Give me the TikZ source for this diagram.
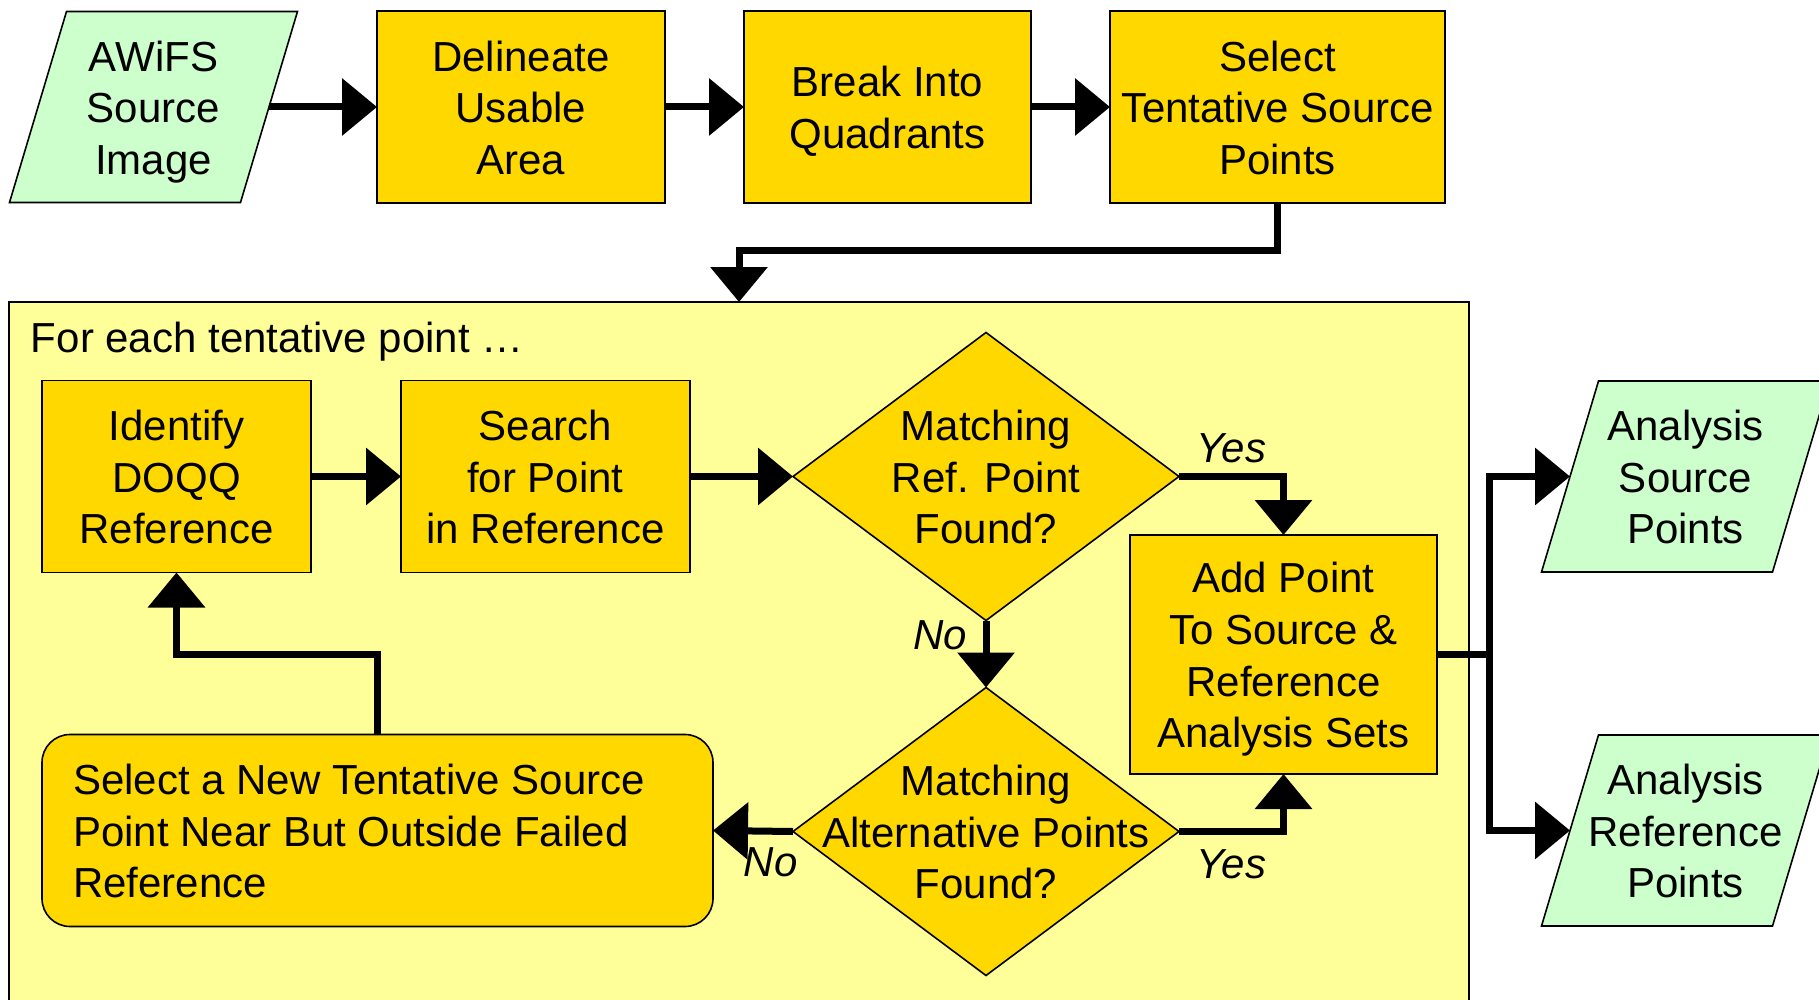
\documentclass[tikz,border=0pt]{standalone}
\usepackage{fontspec}
\setmainfont{Liberation Sans}
\usetikzlibrary{arrows.meta, positioning, shapes.geometric}
\definecolor{stepGold}{HTML}{FFD800}
\definecolor{dataGreen}{HTML}{CCFFCC}
\definecolor{loopYellow}{HTML}{FFFF99}
\pgfdeclarelayer{background}
\pgfsetlayers{background,main}
% stacked lines, each 25.8pt high, block centred on the node
\newcommand{\stk}[2][c]{{\setbox\strutbox\hbox{\rule[-5pt]{0pt}{25.8pt}}%
  \begin{tabular}{@{}#1@{}}#2\end{tabular}}}

\begin{document}
\begin{tikzpicture}[x=0.5pt, y=-0.5pt,
  font=\fontsize{21pt}{25.8pt}\selectfont,
  every node/.style={outer sep=0pt},
  stepbox/.style={draw, line width=0.8pt, fill=stepGold, minimum height=96pt, inner sep=0pt},
  databox/.style={minimum width=115.5pt, minimum height=95.5pt, inner sep=0pt},
  datashape/.style={draw, line width=0.8pt, fill=dataGreen},
  decision/.style={diamond, draw, line width=0.8pt, fill=stepGold,
    minimum width=193pt, minimum height=144pt, inner sep=0pt},
  answer/.style={font=\fontsize{21pt}{25.8pt}\selectfont\itshape, inner sep=0pt},
  arr/.style={-{Triangle[length=17.5pt, width=28pt]}, line width=3.5pt}
]
\useasboundingbox (0,0) rectangle (1819,1000);

% loop area
\node[draw, line width=0.8pt, fill=loopYellow, minimum width=730pt, minimum height=360pt,
  anchor=north west] (region) at (9,302) {};
\node[anchor=north west, inner sep=0pt] (looptitle) at ([xshift=11pt, yshift=-10pt]region.north west)
  {For each tentative point …};

% top row
\node[databox] (awifs) at (153.5,107) {\stk{AWiFS\\Source\\Image}};
\node[stepbox, minimum width=144pt, right=54pt of awifs] (delin) {\stk{Delineate\\Usable\\Area}};
\node[stepbox, minimum width=143.5pt, right=39.5pt of delin] (quad) {\stk{Break Into\\Quadrants}};
\node[stepbox, minimum width=167.5pt, right=39.5pt of quad] (select) {\stk{Select\\Tentative Source\\Points}};

% per point
\node[stepbox, minimum width=134.5pt] (identify) at (176.5,476.5) {\stk{Identify\\DOQQ\\Reference}};
\node[stepbox, minimum width=144.5pt, right=45pt of identify] (search) {\stk{Search\\for Point\\in Reference}};
\node[decision, right=51.5pt of search,
  label={center:{\stk{Matching\\Ref. Point\\Found?}}}] (match) {};
\node[decision, below=33.5pt of match,
  label={center:{\stk{Matching\\Alternative Points\\Found?}}}] (alt) {};
\node[stepbox, minimum width=153.5pt, minimum height=119.5pt] (addpt) at (1283.5,654.5)
  {\stk{Add Point\\To Source \&\\Reference\\Analysis Sets}};
\node[stepbox, rounded corners=14pt, minimum width=335.5pt, inner xsep=15.5pt] (newpt) at (377.5,830.5)
  {\makebox[304.5pt][l]{\stk[l]{Select a New Tentative Source\\Point Near But Outside Failed\\Reference}}};

% outputs
\node[databox] (srcpts) at (1685.5,476.5) {\stk{Analysis\\Source\\Points}};
\node[databox] (refpts) at (1685.5,830.5) {\stk{Analysis\\Reference\\Points}};

\begin{pgfonlayer}{background}
\foreach \d in {awifs, srcpts, refpts}
  \draw[datashape] ([xshift=14.25pt]\d.north west) -- ([xshift=14.25pt]\d.north east)
    -- ([xshift=-14.25pt]\d.south east) -- ([xshift=-14.25pt]\d.south west) -- cycle;
\end{pgfonlayer}

\draw[arr] (awifs) -- (delin);
\draw[arr] (delin) -- (quad);
\draw[arr] (quad) -- (select);
\draw[arr] (select.south) -- ++(0,48) -| (region.north);
\draw[arr] (identify) -- (search);
\draw[arr] (search) -- (match);
\draw[arr] (match.east) -| node[answer, pos=0.25, above=7pt] {Yes} (addpt.north);
\draw[arr] (match.south) -- node[answer, pos=0.22, left=9.5pt] {No} (alt.north);
\draw[arr] (alt.east) -| node[answer, pos=0.25, below=9pt] {Yes} (addpt.south);
\draw[arr] (alt.west) -- node[answer, pos=0.28, below=8pt] {No} (newpt.east);
\draw[arr] (newpt.north) -- ++(0,-80) -| (identify.south);
\draw[arr] (addpt.east) -- ++(52,0) |- (srcpts.west);
\draw[arr] (addpt.east) -- ++(52,0) |- (refpts.west);
\end{tikzpicture}
\end{document}
